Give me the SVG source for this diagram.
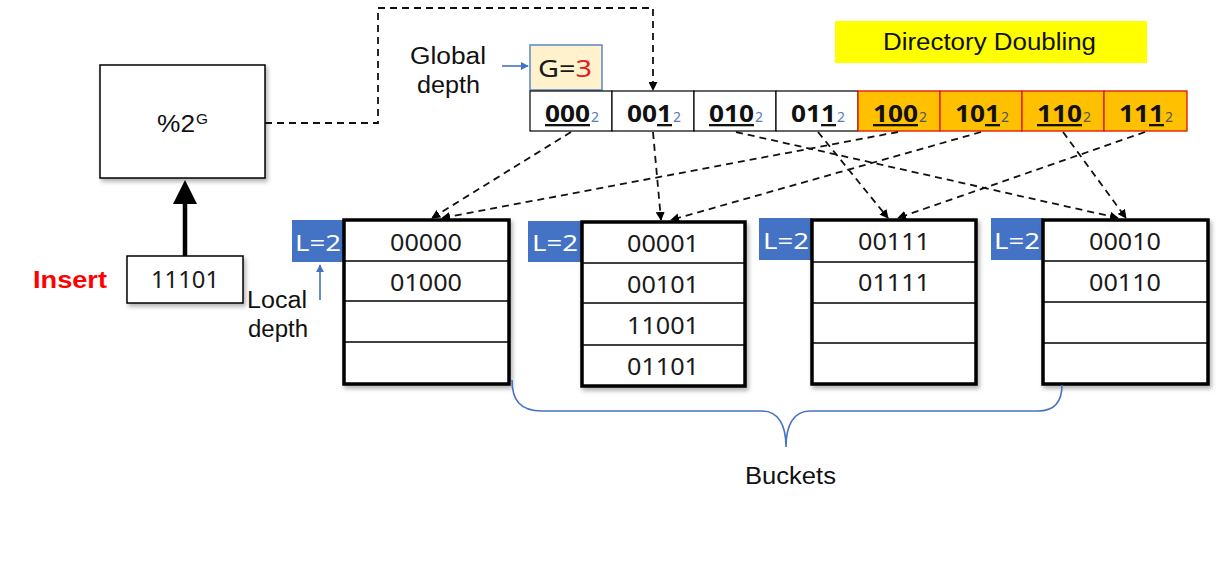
<svg xmlns="http://www.w3.org/2000/svg" width="1226" height="568" viewBox="0 0 1226 568">
<defs>
  <marker id="ah" viewBox="0 0 10 10" refX="9" refY="5" markerWidth="9" markerHeight="9" orient="auto" markerUnits="userSpaceOnUse">
    <path d="M0,0 L10,5 L0,10 z" fill="#000"/>
  </marker>
  <marker id="ahb" viewBox="0 0 10 10" refX="9" refY="5" markerWidth="8" markerHeight="8" orient="auto" markerUnits="userSpaceOnUse">
    <path d="M0,0 L10,5 L0,10 z" fill="#4472C4"/>
  </marker>
  <filter id="sh" x="-10%" y="-10%" width="130%" height="130%">
    <feDropShadow dx="2" dy="3" stdDeviation="2" flood-color="#000" flood-opacity="0.3"/>
  </filter>
</defs>
<style>
  .sans { font-family: "Liberation Sans", Arial, sans-serif; }
  .ui { font-family: "Noto Sans", "Open Sans", sans-serif; }
  .lbl { font-size: 23px; fill: #111; }
  .cell { font-size: 23px; fill: #1a1a1a; text-anchor: middle; }
  .dir { font-size: 23px; font-weight: bold; fill: #111; }
  .sub { font-size: 14px; font-weight: normal; fill: #5a7bb5; }
  .subd { font-size: 14px; font-weight: normal; fill: #555; }
  .dash { fill: none; stroke: #111; stroke-width: 1.8; stroke-dasharray: 7,5; }
  .bk { fill: #fff; stroke: #000; stroke-width: 3.5; }
  .row { stroke: #000; stroke-width: 1.6; }
  .ld { fill: #4472C4; }
  .ldt { font-size: 22px; fill: #fff; }
  .dc { fill: #fff; stroke: #000; stroke-width: 1.2; }
  .dco { fill: #FFC000; stroke: #E02010; stroke-width: 1.4; }
  .u { text-decoration: underline; }
</style>

<rect width="1226" height="568" fill="#fff"/>

<g id="directory-doubling">
  <rect x="835" y="21" width="312" height="42" fill="#FFFF00"/>
  <text x="883" y="50" class="sans lbl" textLength="213" lengthAdjust="spacingAndGlyphs">Directory Doubling</text>
</g>

<g id="mod-box">
  <rect x="100" y="65" width="165" height="113" fill="#fff" stroke="#000" stroke-width="1.5" filter="url(#sh)"/>
  <text x="157" y="132" class="sans" font-size="24" fill="#111" textLength="38" lengthAdjust="spacingAndGlyphs">%2</text>
  <text x="196" y="124" class="sans" font-size="15" fill="#111" textLength="12" lengthAdjust="spacingAndGlyphs">G</text>
</g>

<g id="insert">
  <text x="33" y="288" class="sans" font-size="23" font-weight="bold" fill="#FF0000" textLength="74" lengthAdjust="spacingAndGlyphs">Insert</text>
  <rect x="127" y="256" width="116" height="47" fill="#fff" stroke="#000" stroke-width="1.5" filter="url(#sh)"/>
  <text x="185" y="288" class="ui cell" textLength="68" lengthAdjust="spacingAndGlyphs">11101</text>
</g>

<g id="global-depth">
  <text x="410" y="64" class="sans lbl" textLength="76" lengthAdjust="spacingAndGlyphs">Global</text>
  <text x="417" y="93" class="sans lbl" textLength="63" lengthAdjust="spacingAndGlyphs">depth</text>
  <rect x="530" y="45" width="72" height="45" fill="#FFF2CC" stroke="#5B86C8" stroke-width="1.5"/>
  <text x="538" y="77" class="ui" font-size="23" fill="#1a1a1a" textLength="54" lengthAdjust="spacingAndGlyphs">G=<tspan fill="#E02020">3</tspan></text>
</g>

<g id="local-depth">
  <text x="247" y="308" class="sans lbl" textLength="60" lengthAdjust="spacingAndGlyphs">Local</text>
  <text x="248" y="337" class="sans lbl" textLength="60" lengthAdjust="spacingAndGlyphs">depth</text>
</g>

<g id="directory">
  <rect x="530" y="91" width="82" height="40" class="dc"/>
  <rect x="612" y="91" width="82" height="40" class="dc"/>
  <rect x="694" y="91" width="82" height="40" class="dc"/>
  <rect x="776" y="91" width="82" height="40" class="dc"/>
  <rect x="858" y="91" width="82" height="40" class="dco"/>
  <rect x="940" y="91" width="82" height="40" class="dco"/>
  <rect x="1022" y="91" width="82" height="40" class="dco"/>
  <rect x="1104" y="91" width="83" height="40" class="dco"/>
  <text x="545" y="122" class="ui dir"><tspan class="u" textLength="45" lengthAdjust="spacingAndGlyphs">000</tspan><tspan class="sub" dx="1">2</tspan></text>
  <text x="627" y="122" class="ui dir"><tspan textLength="30" lengthAdjust="spacingAndGlyphs">00</tspan><tspan class="u" textLength="15" lengthAdjust="spacingAndGlyphs">1</tspan><tspan class="sub" dx="1">2</tspan></text>
  <text x="709" y="122" class="ui dir"><tspan class="u" textLength="45" lengthAdjust="spacingAndGlyphs">010</tspan><tspan class="sub" dx="1">2</tspan></text>
  <text x="791" y="122" class="ui dir"><tspan textLength="30" lengthAdjust="spacingAndGlyphs">01</tspan><tspan class="u" textLength="15" lengthAdjust="spacingAndGlyphs">1</tspan><tspan class="sub" dx="1">2</tspan></text>
  <text x="873" y="122" class="ui dir"><tspan class="u" textLength="45" lengthAdjust="spacingAndGlyphs">100</tspan><tspan class="subd" dx="1">2</tspan></text>
  <text x="955" y="122" class="ui dir"><tspan textLength="30" lengthAdjust="spacingAndGlyphs">10</tspan><tspan class="u" textLength="15" lengthAdjust="spacingAndGlyphs">1</tspan><tspan class="subd" dx="1">2</tspan></text>
  <text x="1037" y="122" class="ui dir"><tspan class="u" textLength="45" lengthAdjust="spacingAndGlyphs">110</tspan><tspan class="subd" dx="1">2</tspan></text>
  <text x="1119" y="122" class="ui dir"><tspan textLength="30" lengthAdjust="spacingAndGlyphs">11</tspan><tspan class="u" textLength="15" lengthAdjust="spacingAndGlyphs">1</tspan><tspan class="subd" dx="1">2</tspan></text>
</g>

<g id="bucket-1">
  <rect x="292" y="220" width="52" height="42" class="ld"/>
  <text x="295" y="251" class="ui ldt" textLength="46" lengthAdjust="spacingAndGlyphs">L=2</text>
  <rect x="344" y="220" width="165" height="164" class="bk" filter="url(#sh)"/>
  <line x1="344" y1="261" x2="509" y2="261" class="row"/>
  <line x1="344" y1="301" x2="509" y2="301" class="row"/>
  <line x1="344" y1="342" x2="509" y2="342" class="row"/>
  <text x="426" y="251" class="ui cell" textLength="72" lengthAdjust="spacingAndGlyphs">00000</text>
  <text x="426" y="291" class="ui cell" textLength="72" lengthAdjust="spacingAndGlyphs">01000</text>
</g>

<g id="bucket-2">
  <rect x="528" y="221" width="54" height="41" class="ld"/>
  <text x="532" y="251" class="ui ldt" textLength="46" lengthAdjust="spacingAndGlyphs">L=2</text>
  <rect x="582" y="222" width="163" height="164" class="bk" filter="url(#sh)"/>
  <line x1="582" y1="263" x2="745" y2="263" class="row"/>
  <line x1="582" y1="303" x2="745" y2="303" class="row"/>
  <line x1="582" y1="345" x2="745" y2="345" class="row"/>
  <text x="663" y="252" class="ui cell" textLength="72" lengthAdjust="spacingAndGlyphs">00001</text>
  <text x="663" y="293" class="ui cell" textLength="72" lengthAdjust="spacingAndGlyphs">00101</text>
  <text x="663" y="334" class="ui cell" textLength="72" lengthAdjust="spacingAndGlyphs">11001</text>
  <text x="663" y="375" class="ui cell" textLength="72" lengthAdjust="spacingAndGlyphs">01101</text>
</g>

<g id="bucket-3">
  <rect x="759" y="218" width="53" height="42" class="ld"/>
  <text x="763" y="249" class="ui ldt" textLength="46" lengthAdjust="spacingAndGlyphs">L=2</text>
  <rect x="812" y="220" width="164" height="164" class="bk" filter="url(#sh)"/>
  <line x1="812" y1="262" x2="976" y2="262" class="row"/>
  <line x1="812" y1="303" x2="976" y2="303" class="row"/>
  <line x1="812" y1="343" x2="976" y2="343" class="row"/>
  <text x="894" y="250" class="ui cell" textLength="72" lengthAdjust="spacingAndGlyphs">00111</text>
  <text x="894" y="291" class="ui cell" textLength="72" lengthAdjust="spacingAndGlyphs">01111</text>
</g>

<g id="bucket-4">
  <rect x="991" y="218" width="52" height="42" class="ld"/>
  <text x="994" y="249" class="ui ldt" textLength="46" lengthAdjust="spacingAndGlyphs">L=2</text>
  <rect x="1043" y="220" width="165" height="164" class="bk" filter="url(#sh)"/>
  <line x1="1043" y1="261" x2="1208" y2="261" class="row"/>
  <line x1="1043" y1="302" x2="1208" y2="302" class="row"/>
  <line x1="1043" y1="343" x2="1208" y2="343" class="row"/>
  <text x="1125" y="250" class="ui cell" textLength="72" lengthAdjust="spacingAndGlyphs">00010</text>
  <text x="1125" y="291" class="ui cell" textLength="72" lengthAdjust="spacingAndGlyphs">00110</text>
</g>

<g id="buckets-label">
  <path d="M512,380 C512,400 520,411 542,411 L762,411 C779,411 786,426 786,447 C786,426 793,411 810,411 L1038,411 C1055,411 1062,402 1062,385" fill="none" stroke="#4472C4" stroke-width="1.6"/>
  <text x="745" y="484" class="sans lbl" textLength="91" lengthAdjust="spacingAndGlyphs">Buckets</text>
</g>

<g id="connectors">
  <path d="M265,123 L378,123 L378,8 L653,8 L653,90" class="dash" marker-end="url(#ah)"/>
  <line x1="185" y1="256" x2="185" y2="203" stroke="#000" stroke-width="4.5"/>
  <path d="M185,180 L197,204 L173,204 z" fill="#000"/>
  <line x1="502" y1="66" x2="528" y2="66" stroke="#4472C4" stroke-width="1.6" marker-end="url(#ahb)"/>
  <line x1="320" y1="300" x2="320" y2="265" stroke="#4472C4" stroke-width="1.6" marker-end="url(#ahb)"/>
  <line x1="571" y1="132" x2="432" y2="218" class="dash" marker-end="url(#ah)"/>
  <line x1="898" y1="132" x2="442" y2="218" class="dash" marker-end="url(#ah)"/>
  <line x1="653" y1="132" x2="661" y2="220" class="dash" marker-end="url(#ah)"/>
  <line x1="981" y1="132" x2="671" y2="220" class="dash" marker-end="url(#ah)"/>
  <line x1="818" y1="132" x2="888" y2="218" class="dash" marker-end="url(#ah)"/>
  <line x1="1145" y1="132" x2="898" y2="218" class="dash" marker-end="url(#ah)"/>
  <line x1="736" y1="132" x2="1118" y2="218" class="dash" marker-end="url(#ah)"/>
  <line x1="1063" y1="132" x2="1126" y2="218" class="dash" marker-end="url(#ah)"/>
</g>
</svg>
